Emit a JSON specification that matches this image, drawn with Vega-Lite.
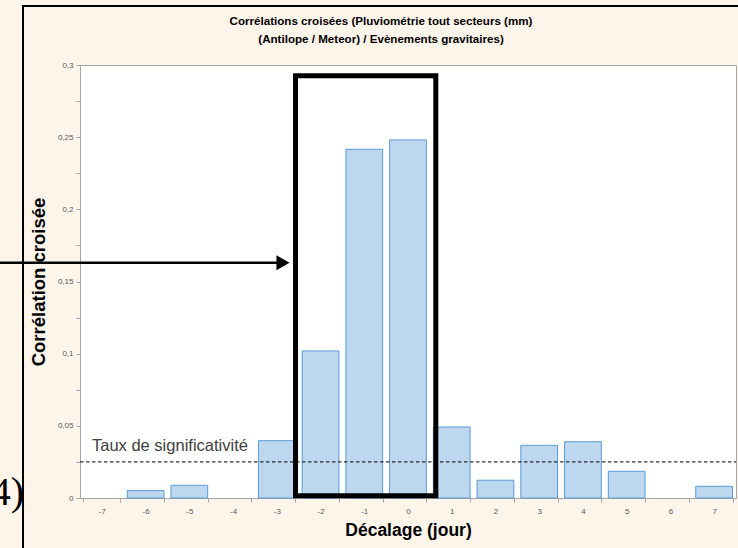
{
  "$schema": "https://vega.github.io/schema/vega-lite/v6.json",
  "width": 656,
  "height": 433,
  "autosize": {"type": "none"},
  "padding": {"left": 80, "top": 65, "right": 2, "bottom": 50},
  "background": "#fdf4ea",
  "config": {
    "view": {"fill": "white", "stroke": "#a6a6a6", "strokeWidth": 1},
    "font": "Liberation Sans"
  },
  "datasets": {
    "bars": [
      {"lag": -7, "corr": 0},
      {"lag": -6, "corr": 0.0051},
      {"lag": -5, "corr": 0.0088},
      {"lag": -4, "corr": 0},
      {"lag": -3, "corr": 0.0397},
      {"lag": -2, "corr": 0.1019},
      {"lag": -1, "corr": 0.2416},
      {"lag": 0, "corr": 0.2481},
      {"lag": 1, "corr": 0.0492},
      {"lag": 2, "corr": 0.0123},
      {"lag": 3, "corr": 0.0365},
      {"lag": 4, "corr": 0.039},
      {"lag": 5, "corr": 0.0185},
      {"lag": 6, "corr": 0},
      {"lag": 7, "corr": 0.0081}
    ],
    "peach": [
      {"x": -9.6, "x2": -8.815, "y": -0.06, "y2": 0.36},
      {"x": -9.6, "x2": 8.4, "y": 0.3416, "y2": 0.36}
    ],
    "frame": [
      {"x": -8.803, "x2": 8.4, "y": -0.06, "y2": 0.3409}
    ],
    "heading": [
      {"x": -0.617, "y": 0.3298, "label": "Corrélations  croisées (Pluviométrie tout secteurs (mm)\n(Antilope / Meteor) / Evènements gravitaires)"}
    ],
    "threshold": [
      {"x": -7.5, "x2": 7.5, "y": 0.025}
    ],
    "label": [
      {"x": -7.226, "y": 0.036, "label": "Taux de significativité"}
    ],
    "box": [
      {"x": -2.572, "x2": 0.636, "y": 0.0015, "y2": 0.2925}
    ],
    "arrow": [
      {"x": -9.444, "x2": -2.927, "y": 0.163}
    ],
    "head": [
      {"x": -2.858, "y": 0.163}
    ],
    "tag": [
      {"x": -8.78, "y": -0.0049, "label": "4)"}
    ]
  },
  "layer": [
    {
      "data": {"name": "bars"},
      "mark": {"type": "bar", "fill": "#bdd7ee", "stroke": "#5b9bd5"},
      "encoding": {
        "x": {
          "field": "lag",
          "type": "ordinal",
          "scale": {"paddingInner": 0.16, "paddingOuter": 0.08},
          "axis": {
            "title": "Décalage (jour)",
            "titleFont": "Liberation Sans",
            "titleFontSize": 17.5,
            "titleFontWeight": "bold",
            "titleColor": "#000000",
            "titleX": 328,
            "titleY": 32,
            "titleBaseline": "middle",
            "labelAngle": 0,
            "labelFontSize": 8,
            "labelColor": "#595959",
            "labelPadding": 5,
            "tickBand": "extent",
            "tickSize": 4,
            "tickColor": "#a6a6a6",
            "domainColor": "#a6a6a6",
            "grid": false
          }
        },
        "y": {
          "field": "corr",
          "type": "quantitative",
          "scale": {"domain": [0, 0.3], "nice": false},
          "axis": {
            "title": "Corrélation croisée",
            "titleFont": "Liberation Sans",
            "titleFontSize": 18.5,
            "titleFontWeight": "bold",
            "titleColor": "#000000",
            "titleX": -42,
            "titleY": 216.5,
            "titleBaseline": "middle",
            "titleAngle": -90,
            "values": [0, 0.025, 0.05, 0.075, 0.1, 0.125, 0.15, 0.175, 0.2, 0.225, 0.25, 0.275, 0.3],
            "labelExpr": "round(datum.value*40) % 2 == 0 ? replace(format(datum.value, '~g'), '.', ',') : ''",
            "labelFontSize": 8,
            "labelColor": "#595959",
            "labelPadding": 3,
            "tickSize": 4,
            "tickColor": "#a6a6a6",
            "domainColor": "#a6a6a6",
            "grid": false
          }
        },
        "strokeOpacity": {"condition": {"test": "datum.corr == 0", "value": 0}, "value": 1}
      }
    },
    {
      "layer": [
        {
          "data": {"name": "peach"},
          "mark": {"type": "rect", "fill": "#fdf4ea", "strokeWidth": 0},
          "encoding": {
            "x": {"field": "x", "type": "quantitative", "scale": {"domain": [-7.5, 7.5], "nice": false, "zero": false}, "axis": null},
            "x2": {"field": "x2"},
            "y": {"field": "y", "type": "quantitative", "scale": {"domain": [0, 0.3], "nice": false, "zero": false}, "axis": null},
            "y2": {"field": "y2"}
          }
        },
        {
          "data": {"name": "frame"},
          "mark": {"type": "rect", "fill": "transparent", "stroke": "#000000", "strokeWidth": 2},
          "encoding": {
            "x": {"field": "x", "type": "quantitative", "scale": {"domain": [-7.5, 7.5], "nice": false, "zero": false}, "axis": null},
            "x2": {"field": "x2"},
            "y": {"field": "y", "type": "quantitative", "scale": {"domain": [0, 0.3], "nice": false, "zero": false}, "axis": null},
            "y2": {"field": "y2"}
          }
        },
        {
          "data": {"name": "heading"},
          "mark": {"type": "text", "align": "center", "baseline": "middle", "fontSize": 11.6, "fontWeight": "bold", "font": "Liberation Sans", "color": "#000000", "lineBreak": "\n", "lineHeight": 18},
          "encoding": {
            "x": {"field": "x", "type": "quantitative", "scale": {"domain": [-7.5, 7.5], "nice": false, "zero": false}, "axis": null},
            "y": {"field": "y", "type": "quantitative", "scale": {"domain": [0, 0.3], "nice": false, "zero": false}, "axis": null},
            "text": {"field": "label"}
          }
        },
        {
          "data": {"name": "threshold"},
          "mark": {"type": "rule", "stroke": "#000000", "strokeWidth": 1, "strokeDash": [3.5, 2.5]},
          "encoding": {
            "x": {"field": "x", "type": "quantitative", "scale": {"domain": [-7.5, 7.5], "nice": false, "zero": false}, "axis": null},
            "x2": {"field": "x2"},
            "y": {"field": "y", "type": "quantitative", "scale": {"domain": [0, 0.3], "nice": false, "zero": false}, "axis": null}
          }
        },
        {
          "data": {"name": "label"},
          "mark": {"type": "text", "align": "left", "baseline": "middle", "fontSize": 16.5, "font": "Liberation Sans", "color": "#404040"},
          "encoding": {
            "x": {"field": "x", "type": "quantitative", "scale": {"domain": [-7.5, 7.5], "nice": false, "zero": false}, "axis": null},
            "y": {"field": "y", "type": "quantitative", "scale": {"domain": [0, 0.3], "nice": false, "zero": false}, "axis": null},
            "text": {"field": "label"}
          }
        },
        {
          "data": {"name": "box"},
          "mark": {"type": "rect", "fill": "transparent", "stroke": "#000000", "strokeWidth": 5},
          "encoding": {
            "x": {"field": "x", "type": "quantitative", "scale": {"domain": [-7.5, 7.5], "nice": false, "zero": false}, "axis": null},
            "x2": {"field": "x2"},
            "y": {"field": "y", "type": "quantitative", "scale": {"domain": [0, 0.3], "nice": false, "zero": false}, "axis": null},
            "y2": {"field": "y2"}
          }
        },
        {
          "data": {"name": "arrow"},
          "mark": {"type": "rule", "stroke": "#000000", "strokeWidth": 2.3},
          "encoding": {
            "x": {"field": "x", "type": "quantitative", "scale": {"domain": [-7.5, 7.5], "nice": false, "zero": false}, "axis": null},
            "x2": {"field": "x2"},
            "y": {"field": "y", "type": "quantitative", "scale": {"domain": [0, 0.3], "nice": false, "zero": false}, "axis": null}
          }
        },
        {
          "data": {"name": "head"},
          "mark": {"type": "point", "shape": "triangle-right", "filled": true, "fill": "#000000", "opacity": 1, "size": 230, "strokeWidth": 0},
          "encoding": {
            "x": {"field": "x", "type": "quantitative", "scale": {"domain": [-7.5, 7.5], "nice": false, "zero": false}, "axis": null},
            "y": {"field": "y", "type": "quantitative", "scale": {"domain": [0, 0.3], "nice": false, "zero": false}, "axis": null}
          }
        },
        {
          "data": {"name": "tag"},
          "mark": {"type": "text", "align": "right", "baseline": "alphabetic", "fontSize": 40, "font": "Liberation Serif", "color": "#000000"},
          "encoding": {
            "x": {"field": "x", "type": "quantitative", "scale": {"domain": [-7.5, 7.5], "nice": false, "zero": false}, "axis": null},
            "y": {"field": "y", "type": "quantitative", "scale": {"domain": [0, 0.3], "nice": false, "zero": false}, "axis": null},
            "text": {"field": "label"}
          }
        }
      ]
    }
  ],
  "resolve": {"scale": {"x": "independent", "y": "independent"}}
}
